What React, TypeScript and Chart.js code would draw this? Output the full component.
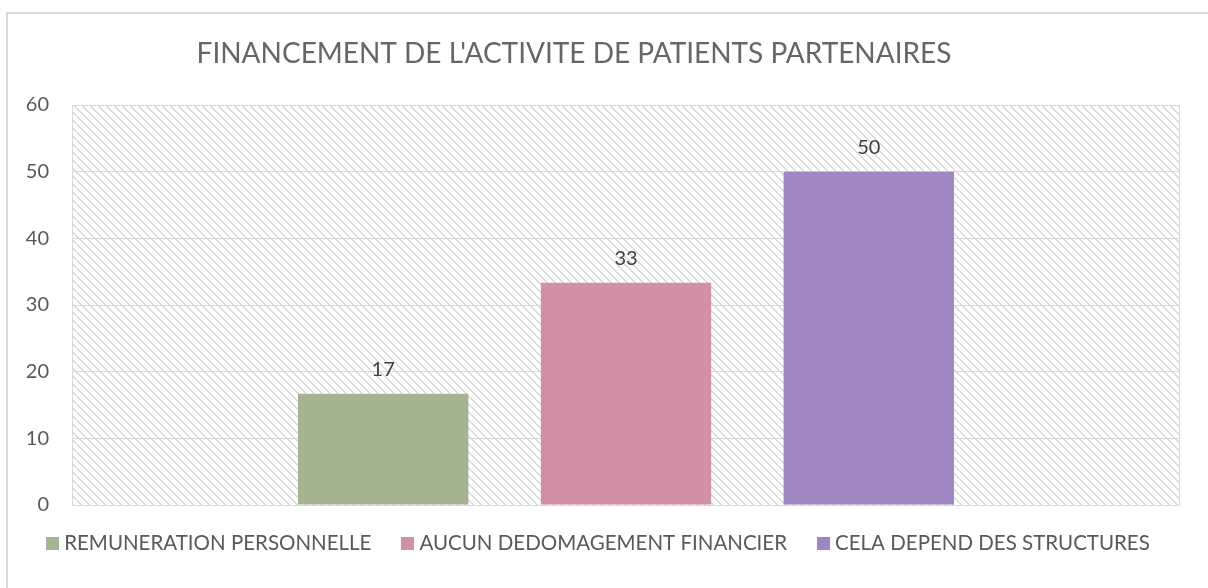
import React, { useEffect, useRef } from "react";
import { Chart, registerables } from "chart.js";

Chart.register(...registerables);

const TITLE = "FINANCEMENT DE L'ACTIVITE DE PATIENTS PARTENAIRES";
const categories = [""];
const seriesNames = [
  "REMUNERATION PERSONNELLE",
  "AUCUN DEDOMAGEMENT FINANCIER",
  "CELA DEPEND DES STRUCTURES",
];
const seriesValues = [16.67, 33.33, 50];
const seriesColors = ["#a5b592", "#d190a6", "#9e86c2"];
const yTicks = [0, 10, 20, 30, 40, 50, 60];

const FONT = "Lato, 'Open Sans', sans-serif";
const W = 1208;
const H = 588;

function makeHatch(): CanvasPattern | string {
  const c = document.createElement("canvas");
  c.width = 8;
  c.height = 8;
  const g = c.getContext("2d");
  if (!g) return "#fff";
  g.fillStyle = "#ffffff";
  g.fillRect(0, 0, 8, 8);
  g.fillStyle = "#d9d9d9";
  for (let i = 0; i < 8; i++) {
    g.fillRect(i, i, 1, 1);
    g.fillRect((i + 1) % 8, i, 1, 1);
  }
  const p = g.createPattern(c, "repeat");
  return p || "#fff";
}

const framePlugin = {
  id: "frame",
  beforeDraw(chart: any) {
    const { ctx, chartArea } = chart;
    ctx.save();
    ctx.fillStyle = "#ffffff";
    ctx.fillRect(0, 0, W, H);
    ctx.fillStyle = "#d9d9d9";
    ctx.fillRect(6, 12, W - 6, 2);
    ctx.fillRect(6, 12, 2, H - 12);
    ctx.fillStyle = makeHatch();
    ctx.fillRect(
      chartArea.left,
      chartArea.top,
      chartArea.right - chartArea.left,
      chartArea.bottom - chartArea.top
    );
    ctx.restore();
  },
  beforeDatasetsDraw(chart: any) {
    const { ctx, chartArea } = chart;
    ctx.save();
    ctx.strokeStyle = "#d9d9d9";
    ctx.lineWidth = 1;
    ctx.strokeRect(
      Math.round(chartArea.left) + 0.5,
      Math.round(chartArea.top) + 0.5,
      Math.round(chartArea.right - chartArea.left) - 1,
      Math.round(chartArea.bottom - chartArea.top)
    );
    ctx.restore();
  },
  afterDatasetsDraw(chart: any) {
    const { ctx } = chart;
    ctx.save();
    ctx.font = `20px ${FONT}`;
    ctx.fillStyle = "#404040";
    ctx.textAlign = "center";
    ctx.textBaseline = "alphabetic";
    chart.data.datasets.forEach((ds: any, i: number) => {
      const meta = chart.getDatasetMeta(i);
      const el = meta.data[0];
      if (!el) return;
      ctx.fillText(String(Math.round(ds.data[0])), el.x, el.y - 18);
    });
    ctx.restore();
  },
  afterDraw(chart: any) {
    const { ctx } = chart;
    ctx.save();
    // Title
    ctx.font = `28px ${FONT}`;
    ctx.fillStyle = "#666666";
    ctx.textAlign = "center";
    ctx.textBaseline = "alphabetic";
    ctx.fillText(TITLE, 574, 63);

    // Legend
    ctx.font = `20.5px ${FONT}`;
    const box = 13;
    const gapBoxText = 5;
    const gapItems = 30;
    const widths = chart.data.datasets.map(
      (ds: any) => box + gapBoxText + ctx.measureText(ds.label).width
    );
    const total =
      widths.reduce((a: number, b: number) => a + b, 0) +
      gapItems * (widths.length - 1);
    let x = 598 - total / 2;
    const baseline = 550;
    ctx.textAlign = "left";
    chart.data.datasets.forEach((ds: any, i: number) => {
      ctx.fillStyle = ds.backgroundColor;
      ctx.fillRect(Math.round(x), baseline - 13, box, box);
      ctx.fillStyle = "#595959";
      ctx.fillText(ds.label, x + box + gapBoxText, baseline);
      x += widths[i] + gapItems;
    });
    ctx.restore();
  },
};

export default function App() {
  const ref = useRef<HTMLCanvasElement | null>(null);

  useEffect(() => {
    if (!ref.current) return;
    const chart = new Chart(ref.current, {
      type: "bar",
      data: {
        labels: categories,
        datasets: seriesNames.map((name, i) => ({
          label: name,
          data: [seriesValues[i]],
          backgroundColor: seriesColors[i],
          borderWidth: 0,
          categoryPercentage: 0.6574,
          barPercentage: 0.7016,
        })),
      },
      options: {
        responsive: false,
        animation: false,
        maintainAspectRatio: false,
        layout: { padding: { left: 0, top: 105, right: 28, bottom: 83 } },
        plugins: {
          legend: { display: false },
          title: { display: false },
          tooltip: { enabled: false },
        },
        scales: {
          x: { display: false },
          y: {
            min: 0,
            max: 60,
            afterBuildTicks: (s: any) => {
              s.ticks = yTicks.map((v) => ({ value: v }));
            },
            afterFit: (s: any) => {
              s.width = 72;
            },
            ticks: {
              font: { family: FONT, size: 20 },
              color: "#595959",
              padding: 23,
            },
            grid: { color: "#d9d9d9", drawTicks: false, tickLength: 0 },
            border: { display: false },
          },
        },
      },
      plugins: [framePlugin],
    });
    return () => chart.destroy();
  }, []);

  return (
    <div
      style={{
        position: "fixed",
        left: 0,
        top: 0,
        width: W,
        height: H,
        background: "#fff",
      }}
    >
      <canvas ref={ref} width={W} height={H} style={{ display: "block" }} />
    </div>
  );
}
